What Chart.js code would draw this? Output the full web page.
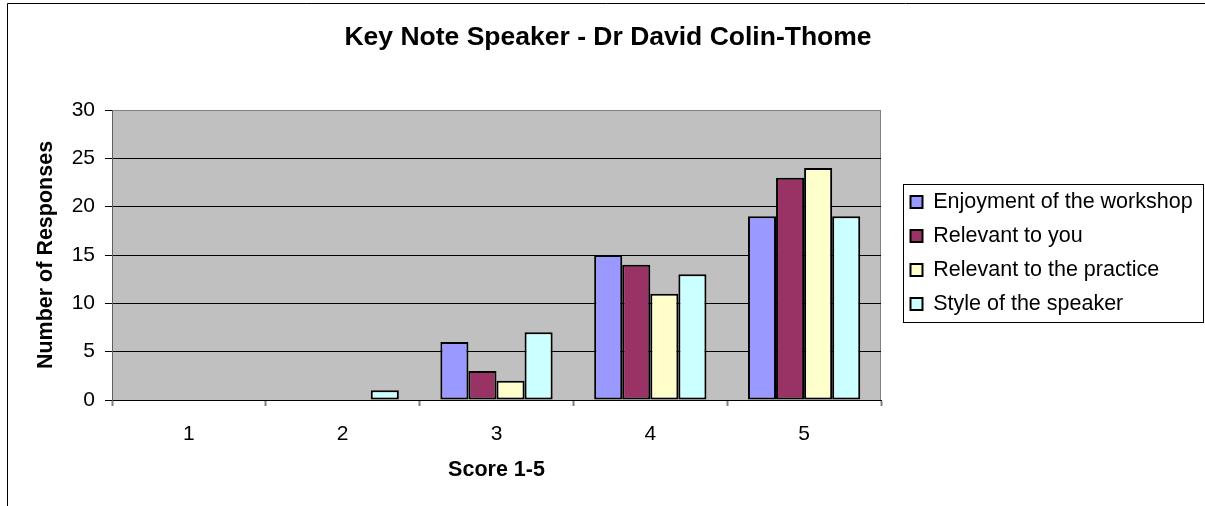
<!DOCTYPE html>
<html>
<head>
<meta charset="utf-8">
<script src="https://cdn.jsdelivr.net/npm/chart.js@4"></script>
<style>
  body { margin: 0; background: #fff; }
  #wrap { width: 1205px; height: 506px; }
</style>
</head>
<body>
<div id="wrap"><canvas id="barChart" width="1205" height="506"></canvas></div>
<script>
// Data
const scores = ["1", "2", "3", "4", "5"];
const enjoyment = [0, 0, 6, 15, 19];
const relevantYou = [0, 0, 3, 14, 23];
const relevantPractice = [0, 0, 2, 11, 24];
const speakerStyle = [0, 1, 7, 13, 19];
const seriesNames = [
  "Enjoyment of the workshop",
  "Relevant to you",
  "Relevant to the practice",
  "Style of the speaker",
];
const seriesColors = ["#9999FF", "#993366", "#FFFFCC", "#CCFFFF"];

const FONT = "'Liberation Sans', Arial, sans-serif";

// Grey plot area, outer chart frame and legend box (Excel look)
const excelFrame = {
  id: "excelFrame",
  afterLayout(chart) {
    // legend sits a bit away from the plot, title centred on the whole chart object
    chart.legend.left += 17;
    chart.legend.right = chart.width;
    chart.legend.width = chart.legend.right - chart.legend.left;
    chart.titleBlock.left = 7;
    chart.titleBlock.right = 1209;
  },
  beforeDraw(chart) {
    const { ctx, chartArea: a } = chart;
    ctx.save();
    ctx.fillStyle = "#C0C0C0";
    ctx.fillRect(a.left, a.top, a.right - a.left, a.bottom - a.top);
    ctx.strokeStyle = "#808080";
    ctx.lineWidth = 1;
    ctx.strokeRect(a.left + 0.5, a.top + 0.5, a.right - a.left - 1, a.bottom - a.top);
    // outer border (only top and left are visible in the crop)
    ctx.strokeStyle = "#000";
    ctx.beginPath();
    ctx.moveTo(7.5, chart.height);
    ctx.lineTo(7.5, 3.5);
    ctx.lineTo(chart.width, 3.5);
    ctx.stroke();
    ctx.restore();
  },
  afterDraw(chart) {
    const hb = chart.legend.legendHitBoxes;
    if (!hb || !hb.length) return;
    const ctx = chart.ctx;
    const x0 = Math.round(hb[0].left - 8) + 0.5;
    const y0 = Math.round(hb[0].top - 7) + 0.5;
    const x1 = Math.round(Math.max(...hb.map((h) => h.left + h.width)) + 10) + 0.5;
    const last = hb[hb.length - 1];
    const y1 = Math.round(last.top + last.height + 7) + 0.5;
    ctx.save();
    ctx.strokeStyle = "#000";
    ctx.lineWidth = 1;
    ctx.strokeRect(x0, y0, x1 - x0, y1 - y0);
    ctx.restore();
  },
};

const ctx = document.getElementById("barChart").getContext("2d");

const myBarChart = new Chart(ctx, {
  type: "bar",
  data: {
    labels: scores,
    datasets: [enjoyment, relevantYou, relevantPractice, speakerStyle].map((d, i) => ({
      label: seriesNames[i],
      data: d,
      backgroundColor: seriesColors[i],
      borderColor: "#000",
      borderWidth: 2,
      borderSkipped: false,
      categoryPercentage: 0.73,
      barPercentage: 1.0,
    })),
  },
  options: {
    responsive: false,
    animation: false,
    devicePixelRatio: 1,
    layout: { padding: { left: 8, right: 33, top: 0, bottom: 0 } },
    plugins: {
      title: {
        display: true,
        text: "Key Note Speaker - Dr David Colin-Thome",
        color: "#000",
        font: { family: FONT, size: 26.5, weight: "bold", lineHeight: 1.2 },
        padding: { top: 22, bottom: 56.2 },
      },
      legend: {
        display: true,
        position: "right",
        labels: {
          color: "#000",
          font: { family: FONT, size: 21.5 },
          boxWidth: 12,
          boxHeight: 12,
          padding: 12.5,
        },
      },
      tooltip: { enabled: false },
    },
    scales: {
      x: {
        afterFit: (s) => { s.height = 106; },
        grid: {
          drawOnChartArea: false,
          tickLength: 6,
          tickColor: "#808080",
          tickWidth: 2,
        },
        border: { color: "#000", width: 1 },
        ticks: { color: "#000", font: { family: FONT, size: 21 }, padding: 16 },
        title: {
          display: true,
          text: "Score 1-5",
          color: "#000",
          font: { family: FONT, size: 21.5, weight: "bold" },
          padding: { top: 0, bottom: 23 },
        },
      },
      y: {
        min: 0,
        max: 30,
        afterFit: (s) => { s.width = 104; },
        grid: {
          color: (c) => (c.tick && c.tick.value === 30 ? "#808080" : "#000"),
          tickColor: "#000",
          tickLength: 7,
        },
        border: { color: "#606060", width: 1 },
        ticks: {
          stepSize: 5,
          color: "#000",
          font: { family: FONT, size: 21 },
          padding: 10,
        },
        title: {
          display: true,
          text: "Number of Responses",
          color: "#000",
          font: { family: FONT, size: 21.5, weight: "bold" },
          padding: { top: 25, bottom: 0 },
        },
      },
    },
  },
  plugins: [excelFrame],
});
</script>
</body>
</html>
